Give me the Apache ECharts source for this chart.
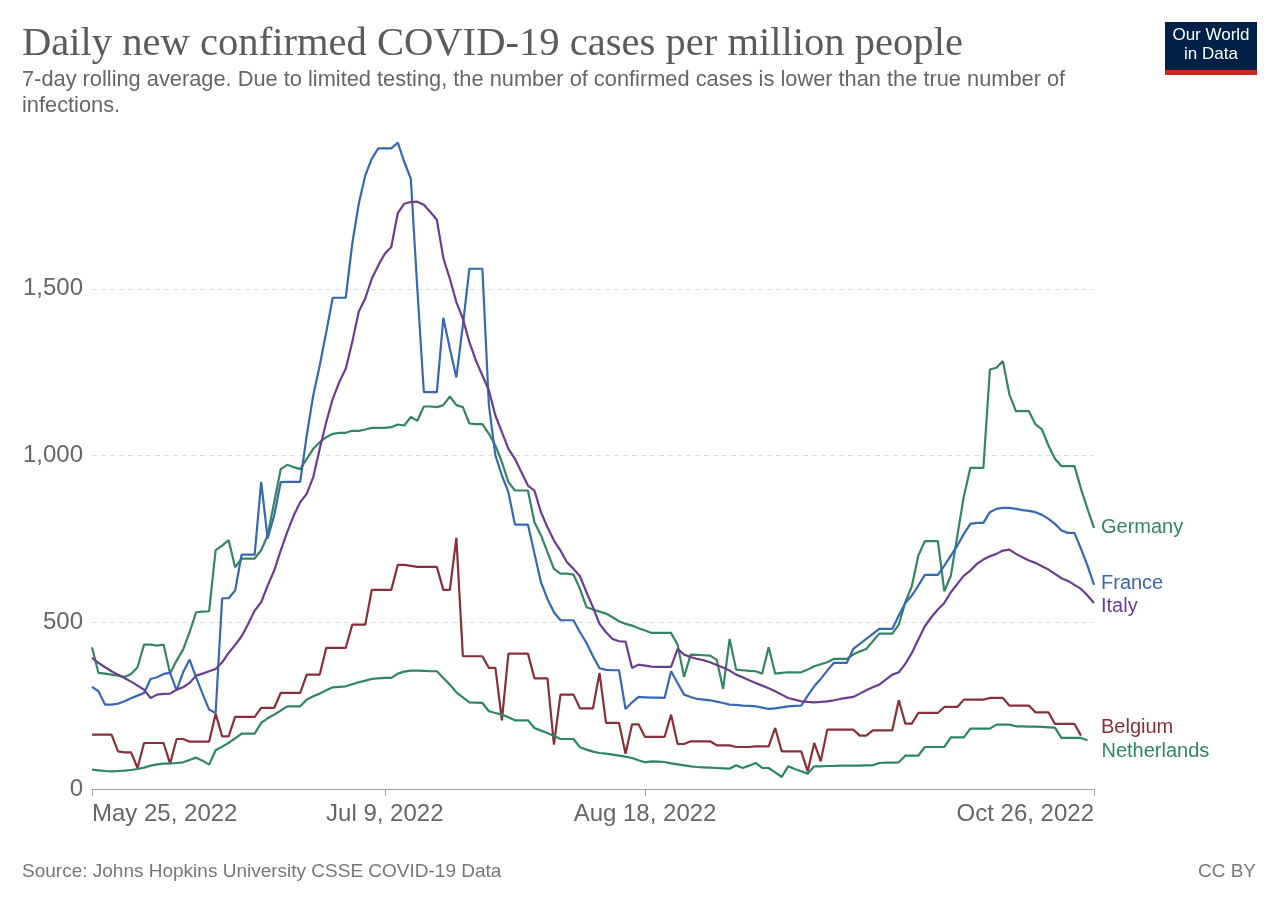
<!DOCTYPE html>
<html>
<head>
<meta charset="utf-8">
<title>Daily new confirmed COVID-19 cases per million people</title>
<script src="https://cdn.jsdelivr.net/npm/echarts/dist/echarts.min.js"></script>
<style>
  html, body { margin: 0; padding: 0; background: #fff; }
  #chart { width: 1280px; height: 903px; }
</style>
</head>
<body>
<div id="chart"></div>
<script>
// one point per day, May 25 2022 .. Oct 26 2022
const startDay = new Date(2022, 4, 25)
const dayCount = 155
const tickLabels = ['May 25, 2022', 'Jul 9, 2022', 'Aug 18, 2022', 'Oct 26, 2022']
const yTicks = [0, 500, 1000, 1500]

const countries = ['Germany', 'France', 'Italy', 'Belgium', 'Netherlands']

const germany = [
  425, 348, 346, 343, 340, 336, 345, 365, 433, 433,
  430, 433, 346, 385, 418, 470, 530, 532, 533, 716,
  730, 746, 665, 691, 691, 691, 716, 761, 860, 959,
  972, 965, 959, 990, 1020, 1040, 1055, 1065, 1068, 1068,
  1074, 1074, 1078, 1083, 1083, 1083, 1085, 1093, 1090, 1116,
  1104, 1147, 1147, 1145, 1151, 1177, 1151, 1145, 1096, 1094,
  1094, 1065, 1030, 980, 920, 895, 895, 895, 800, 761,
  710, 660, 646, 646, 643, 600, 545, 538, 532, 526,
  515, 503, 495, 490, 482, 475, 468, 468, 468, 468,
  433, 336, 403, 402, 401, 400, 388, 300, 450, 358,
  356, 354, 353, 346, 425, 346, 348, 350, 350, 350,
  358, 368, 374, 380, 390, 390, 390, 403, 412, 420,
  443, 466, 466, 466, 493, 560, 608, 700, 743, 743,
  743, 593, 640, 760, 878, 963, 963, 963, 1258, 1263,
  1283, 1183, 1133, 1133, 1133, 1093, 1078, 1030, 990, 968,
  968, 968, 900, 840, 783
]
const france = [
  306, 293, 253, 253, 256, 263, 272, 280, 288, 330,
  335, 345, 348, 296, 350, 388, 335, 285, 238, 228,
  572, 572, 595, 703, 703, 703, 921, 751, 820, 920,
  921, 921, 921, 1060, 1180, 1270, 1370, 1473, 1473, 1473,
  1635, 1755, 1840, 1890, 1921, 1921, 1921, 1938, 1880, 1830,
  1500, 1190, 1190, 1190, 1413, 1320, 1234, 1390, 1560, 1560,
  1560, 1150, 1000, 940, 890, 793, 793, 793, 706, 620,
  570, 530, 506, 506, 506, 470, 438, 398, 362, 357,
  356, 356, 240, 260, 276, 275, 274, 274, 273, 353,
  318, 283, 276, 270, 268, 266, 262, 258, 253, 252,
  250, 249, 248, 244, 240, 242, 245, 248, 249, 250,
  280, 308, 330, 355, 378, 378, 378, 420, 435, 450,
  465, 480, 480, 480, 520, 558, 580, 610, 642, 642,
  642, 670, 700, 730, 765, 795, 798, 798, 830, 840,
  843, 843, 840, 836, 834, 830, 822, 810, 795, 775,
  768, 768, 720, 670, 612
]
const italy = [
  393, 378, 365, 353, 343, 333, 322, 310, 298, 273,
  283, 285, 286, 298, 305, 318, 340, 346, 353, 360,
  380, 408, 432, 458, 495, 535, 560, 610, 655, 715,
  770, 820, 860, 885, 935, 1020, 1100, 1170, 1220, 1260,
  1340, 1432, 1471, 1530, 1570, 1605, 1625, 1727, 1755, 1760,
  1761, 1752, 1730, 1707, 1592, 1530, 1460, 1410, 1340, 1285,
  1240, 1195, 1120, 1070, 1020, 990, 950, 910, 895, 830,
  785, 745, 715, 680, 660, 638, 590, 545, 495, 470,
  450, 443, 442, 363, 373, 370, 367, 366, 366, 366,
  420, 403, 396, 390, 386, 380, 372, 364, 355, 343,
  335, 326, 318, 310, 302, 293, 283, 273, 268, 263,
  261, 260, 261, 263, 266, 270, 273, 276, 286, 296,
  305, 313, 328, 343, 350, 375, 408, 448, 488, 515,
  538, 558, 590, 615, 640, 655, 675, 688, 698, 705,
  715, 718, 705, 695, 685, 678, 668, 658, 645, 632,
  624, 612, 600, 580, 558
]
// Belgium stops on Oct 24, Netherlands on Oct 25
const belgium = [
  163, 163, 163, 163, 113, 110, 110, 63, 138, 138,
  138, 138, 76, 150, 150, 142, 142, 142, 142, 226,
  158, 158, 216, 216, 216, 216, 243, 243, 243, 288,
  288, 288, 288, 343, 343, 343, 423, 423, 423, 423,
  493, 493, 493, 597, 597, 597, 597, 672, 672, 669,
  666, 666, 666, 666, 597, 597, 753, 398, 398, 398,
  398, 363, 363, 206, 406, 406, 406, 406, 332, 332,
  332, 133, 283, 283, 283, 242, 242, 242, 348, 198,
  198, 198, 106, 194, 194, 156, 156, 156, 156, 223,
  135, 135, 143, 143, 143, 143, 131, 131, 131, 126,
  126, 126, 128, 128, 128, 183, 113, 113, 113, 113,
  53, 138, 83, 178, 178, 178, 178, 178, 160, 160,
  176, 176, 176, 176, 266, 196, 196, 228, 228, 228,
  228, 246, 246, 246, 268, 268, 268, 268, 273, 273,
  273, 250, 250, 250, 250, 230, 230, 230, 195, 195,
  195, 195, 160
]
const netherlands = [
  58, 56, 54, 53, 54, 55, 57, 60, 64, 70,
  74, 76, 77, 78, 80, 87, 94, 85, 73, 116,
  127, 138, 152, 166, 166, 166, 198, 212, 223, 235,
  248, 248, 248, 268, 278, 286, 296, 305, 306, 308,
  314, 320, 325, 330, 332, 333, 333, 346, 352, 355,
  355, 354, 353, 353, 333, 313, 290, 275, 260, 259,
  258, 233, 228, 223, 215, 206, 206, 206, 183, 175,
  168, 159, 150, 150, 150, 125, 118, 112, 108, 106,
  103, 100, 97, 93, 86, 80, 83, 82, 81, 77,
  74, 71, 68, 66, 65, 64, 63, 62, 61, 71,
  63, 70, 78, 63, 63, 50, 36, 68, 60, 53,
  46, 68, 68, 69, 69, 70, 70, 70, 70, 71,
  71, 78, 79, 79, 80, 100, 100, 100, 126, 126,
  126, 126, 155, 155, 155, 181, 181, 181, 181, 193,
  193, 193, 188, 188, 187, 187, 186, 185, 184, 153,
  153, 153, 153, 146
]

const seriesData = [germany, france, italy, belgium, netherlands]
const colors = ['#348564', '#3768b0', '#6a3e8e', '#883039', '#2d8568']
// nudges so the end labels do not sit on top of each other
const labelOffsets = [[0, 0], [0, -1], [0, 4], [13, -8], [7, 11]]

const MONTHS = ['Jan', 'Feb', 'Mar', 'Apr', 'May', 'Jun', 'Jul', 'Aug', 'Sep', 'Oct', 'Nov', 'Dec']
let days = []
for (let i = 0; i < dayCount; i++) {
  let d = new Date(startDay.getTime())
  d.setDate(d.getDate() + i)
  days.push(MONTHS[d.getMonth()] + ' ' + d.getDate() + ', ' + d.getFullYear())
}

const showTick = (idx, val) => tickLabels.indexOf(val) > -1
const sans = '"Liberation Sans", Arial, sans-serif'

let myChart = echarts.init(document.getElementById('chart'))

let option = {
  backgroundColor: '#fff',
  animation: false,
  title: [
    {
      text: 'Daily new confirmed COVID-19 cases per million people',
      left: 22, top: 20, padding: 0,
      textStyle: { fontFamily: '"Liberation Serif", serif', fontSize: 40.6, fontWeight: 'normal', color: '#5b5b5b', lineHeight: 48 }
    },
    {
      text: '7-day rolling average. Due to limited testing, the number of confirmed cases is lower than the true number of\ninfections.',
      left: 22, top: 67, padding: 0,
      textStyle: { fontFamily: sans, fontSize: 21.8, fontWeight: 'normal', color: '#666', lineHeight: 26 }
    },
    {
      text: 'Source: Johns Hopkins University CSSE COVID-19 Data',
      left: 22, top: 861, padding: 0,
      textStyle: { fontFamily: sans, fontSize: 19, fontWeight: 'normal', color: '#777', lineHeight: 22 }
    },
    {
      text: 'CC BY',
      right: 24, top: 861, padding: 0,
      textStyle: { fontFamily: sans, fontSize: 19, fontWeight: 'normal', color: '#777', lineHeight: 22 }
    },
    {
      text: 'Our World\nin Data',
      left: 1211, top: 26, padding: 0, textAlign: 'center',
      textStyle: { fontFamily: sans, fontSize: 17, fontWeight: 'normal', color: '#fff', lineHeight: 19, align: 'center' }
    }
  ],
  graphic: [
    { type: 'rect', z: -1, shape: { x: 1165, y: 22, width: 92, height: 48 }, style: { fill: '#002147' } },
    { type: 'rect', z: -1, shape: { x: 1165, y: 70, width: 92, height: 5 }, style: { fill: '#ce261e' } }
  ],
  grid: { left: 92, right: 186, top: 122, bottom: 114, containLabel: false },
  xAxis: {
    type: 'category',
    data: days,
    boundaryGap: false,
    axisLine: { lineStyle: { color: '#a0a0a0', width: 1 } },
    axisTick: { show: true, interval: showTick, length: 7, lineStyle: { color: '#a0a0a0' } },
    axisLabel: {
      interval: showTick,
      color: '#666',
      fontFamily: sans,
      fontSize: 24,
      margin: 13,
      alignMinLabel: 'left',
      alignMaxLabel: 'right'
    },
    splitLine: { show: false }
  },
  yAxis: {
    type: 'value',
    min: 0,
    max: 2000,
    interval: 500,
    axisLine: { show: false },
    axisTick: { show: false },
    axisLabel: {
      color: '#666',
      fontFamily: sans,
      fontSize: 24,
      margin: 9,
      showMaxLabel: false,
      formatter: v => yTicks.indexOf(v) > -1 ? v.toLocaleString('en-US') : ''
    },
    splitLine: {
      show: true,
      showMinLine: false,
      showMaxLine: false,
      lineStyle: { color: '#dddddd', type: [5, 4], width: 1 }
    }
  },
  series: countries.map((name, i) => ({
    name: name,
    type: 'line',
    data: seriesData[i],
    showSymbol: false,
    symbol: 'none',
    color: colors[i],
    lineStyle: { width: 2.2, color: colors[i] },
    emphasis: { disabled: true },
    endLabel: {
      show: true,
      formatter: '{a}',
      color: colors[i],
      fontFamily: sans,
      fontSize: 20,
      distance: 7,
      offset: labelOffsets[i]
    }
  }))
}

myChart.setOption(option)

window.onresize = () => {
  myChart.resize()
}
</script>
</body>
</html>
